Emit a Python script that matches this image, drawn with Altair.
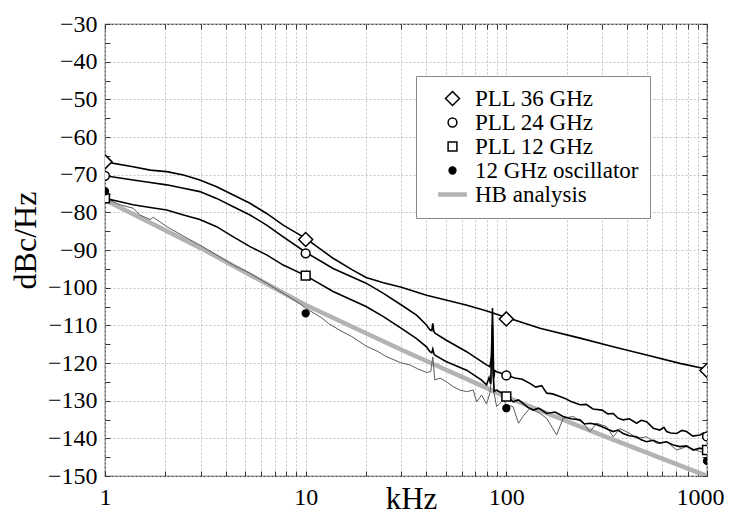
import altair as alt
import pandas as pd

FONT = "Liberation Serif"

series_names = ["PLL 36 GHz", "PLL 24 GHz", "PLL 12 GHz", "12 GHz oscillator", "HB analysis"]

# PLL 36 GHz trace
f36 = [1, 1.38, 1.68, 2.03, 2.46, 2.97, 3.6, 4.36, 5.28, 6.39,
       7.73, 10, 13.7, 17, 20, 24.4, 30, 40, 50, 63,
       80, 100, 147, 233, 341, 500, 733, 950, 1000]
v36 = [-66.6, -67.9, -68.8, -69.2, -70.1, -71.4, -73.2, -75.4, -77.6, -80.3,
       -83.4, -86.9, -92.2, -95.2, -97.3, -98.7, -99.9, -102.0, -103.3, -104.6,
       -106.2, -107.9, -110.8, -113.4, -115.7, -117.9, -120.1, -121.4, -121.9]

# PLL 24 GHz trace
f24 = [1, 1.38, 1.68, 2.03, 2.46, 2.97, 3.6, 4.36, 5.28, 6.39,
       7.73, 10, 13.7, 20, 24.4, 30, 35.7, 40, 41.6, 42.5,
       43, 43.5, 44.1, 50, 63.4, 79.7, 82.8, 84.2, 84.8, 85.3,
       85.8, 86.5, 87.5, 89.5,
       100, 110, 120, 131, 140, 150, 159, 170, 185, 196,
       210, 233, 250, 270, 300, 320, 341, 360, 382, 410,
       446, 470, 500, 540, 582, 610, 629, 660, 706, 750,
       791, 850, 922, 960, 1000]
v24 = [-70.3, -71.4, -72.1, -72.7, -73.6, -74.5, -76.3, -78.5, -80.7, -83.4,
       -86.5, -90.6, -94.9, -98.8, -101.5, -104.6, -107.3, -109.9, -111.2, -111.4,
       -109.5, -111.6, -112.1, -113.9, -117.0, -120.5, -121.0, -118.5, -112.0, -105.4,
       -113.0, -124.0, -122.0, -122.3,
       -123.2, -124.0, -124.3, -125.4, -126.4, -126.0, -128.0, -128.2, -128.9, -129.4,
       -130.2, -131.1, -131.0, -132.2, -132.5, -133.5, -133.4, -134.6, -135.1, -134.8,
       -136.0, -135.2, -135.6, -137.3, -137.8, -137.1, -138.2, -138.6, -138.7, -137.9,
       -138.2, -139.4, -139.1, -138.6, -139.5]

# PLL 12 GHz trace
f12 = [1, 1.19, 1.38, 1.68, 2.03, 2.46, 2.97, 3.6, 4.36, 5.28,
       6.39, 7.73, 10, 13.7, 20, 24.4, 30, 35.7, 40, 41.6,
       42.5, 43, 43.6, 44.1, 50, 63.4, 75, 79.7, 82, 83.5,
       84.5, 85.3, 86, 87, 89.5, 95,
       100, 104, 108, 115, 121, 128, 136, 145, 159, 175,
       192, 210, 233, 245, 261, 280, 300, 320, 341, 360,
       382, 410, 446, 470, 500, 540, 582, 629, 680, 733,
       790, 854, 920, 1000]
v12 = [-76.3, -77.2, -78.0, -78.7, -79.4, -80.7, -81.9, -83.8, -86.5, -89.1,
       -91.3, -94.0, -96.8, -101.0, -105.0, -107.7, -110.8, -113.5, -115.7, -117.0,
       -117.3, -116.3, -117.6, -117.9, -119.6, -121.9, -124.5, -125.8, -123.9, -125.5,
       -118.0, -110.0, -122.0, -127.5, -127.2, -128.0,
       -128.9, -129.5, -130.3, -129.8, -130.7, -131.8, -132.5, -132.0, -133.4, -133.0,
       -134.2, -134.8, -135.1, -136.2, -136.0, -136.3, -136.9, -137.6, -138.2, -137.8,
       -138.7, -139.3, -139.6, -140.4, -140.9, -140.5, -141.3, -140.9, -141.8, -142.2,
       -142.0, -143.1, -142.6, -143.1]

# 12 GHz free-running oscillator trace
f_osc = [1, 1.19, 1.38, 1.49, 1.68, 1.74, 2.03, 2.46, 2.97, 3.6,
         4.36, 5.28, 6.39, 7.73, 9.37, 10, 12, 13, 15, 17,
         20, 23, 25, 30, 33, 36, 40, 42, 43, 44,
         46.7, 50.4, 54.4, 58.7, 63.4, 68.4, 71.1, 75.3, 79.7, 82.8,
         84.5, 85.3, 86.5, 89.5, 93, 96.5, 100, 108, 115, 121,
         131, 147, 159, 178, 192, 216, 242, 261, 282, 316,
         341, 368, 413, 446, 500, 561, 629, 706, 791, 922,
         1000]
v_osc = [-76.3, -78.0, -78.9, -80.7, -81.9, -81.3, -83.8, -86.3, -88.7, -91.3,
         -94.0, -96.2, -98.8, -101.5, -104.3, -105.4, -108.0, -109.5, -111.5, -113.0,
         -115.5, -117.0, -118.2, -120.0, -120.5, -121.5, -122.5, -122.3, -118.4, -124.5,
         -124.0, -125.0, -126.3, -127.2, -127.6, -127.2, -130.3, -128.5, -130.9, -128.0,
         -124.0, -119.5, -127.5, -131.6, -130.7, -129.8, -131.0, -131.6, -136.0, -134.2,
         -132.0, -133.4, -134.7, -139.1, -134.7, -134.2, -136.0, -138.2, -136.0, -136.9,
         -139.6, -137.4, -138.7, -140.0, -139.6, -141.3, -140.9, -143.1, -142.2, -143.5,
         -144.0]

# HB analysis (simulation)
f_hb = [1, 3, 10, 30, 100, 300, 1000]
v_hb = [-76.7, -89.5, -104.6, -116.5, -129.0, -139.2, -150.0]

# marker positions
marker_freq = [1, 10, 100, 1000]
m36 = [-66.6, -87.2, -108.3, -122.0]
m24 = [-70.3, -90.9, -123.3, -139.5]
m12 = [-76.3, -96.8, -128.9, -143.1]
m_osc = [-74.4, -106.8, -132.0, -146.0]

x_ticks = [1, 2, 3, 4, 5, 6, 7, 8, 9,
           10, 20, 30, 40, 50, 60, 70, 80, 90,
           100, 200, 300, 400, 500, 600, 700, 800, 900, 1000]
y_ticks = list(range(-150, -29, 5))


def frame(name, f, v):
    return pd.DataFrame({"f": f, "v": v, "s": name})


pll_df = pd.concat([frame(series_names[0], f36, v36),
                    frame(series_names[1], f24, v24),
                    frame(series_names[2], f12, v12)])
osc_df = frame(series_names[3], f_osc, v_osc)
hb_df = frame(series_names[4], f_hb, v_hb)
mk_df = pd.concat([frame(series_names[0], marker_freq, m36),
                   frame(series_names[1], marker_freq, m24),
                   frame(series_names[2], marker_freq, m12),
                   frame(series_names[3], marker_freq, m_osc)])

xs = alt.Scale(type="log", domain=[1, 1000], nice=False)
ys = alt.Scale(domain=[-150, -30], nice=False, zero=False)

x_main = alt.Axis(
    values=x_ticks, format="d",
    labelExpr="indexof([1,10,100,1000], datum.value) >= 0 ? datum.label : ''",
    labelFlush=False, labelOverlap=False, labelFont=FONT, labelFontSize=24,
    labelColor="black", labelPadding=9,
    labelOffset={"condition": {"test": "datum.value == 1000", "value": -7}, "value": 0},
    grid=True, gridColor="#c4c4c4", gridDash=[2, 2], gridWidth=1,
    domain=False, ticks=True, tickSize=5, tickColor="#333", tickWidth=1, offset=-5,
    title="kHz", titleFont=FONT, titleFontSize=31, titleFontWeight="normal",
    titleColor="black", titleBaseline="alphabetic", titleY=37, titleX=306,
)
y_main = alt.Axis(
    values=y_ticks, format="d",
    labelExpr="datum.value % 10 == 0 ? datum.label : ''",
    labelFlush=False, labelOverlap=False, labelFont=FONT, labelFontSize=24,
    labelColor="black", labelPadding=8,
    grid=True, gridColor="#c4c4c4", gridDash=[2, 2], gridWidth=1,
    gridOpacity={"condition": {"test": "datum.value % 10 == 0", "value": 1}, "value": 0},
    domain=False, ticks=True, tickSize=5, tickColor="#333", tickWidth=1, offset=-5,
    title="dBc/Hz", titleFont=FONT, titleFontSize=32, titleFontWeight="normal",
    titleColor="black", titleBaseline="alphabetic", titleX=-75, titleY=216,
)
x_top = alt.Axis(orient="top", values=x_ticks, labels=False, grid=False, domain=False,
                 ticks=True, tickSize=5, tickColor="#333", tickWidth=1, offset=-5, title=None)
y_right = alt.Axis(orient="right", values=y_ticks, labels=False, grid=False, domain=False,
                   ticks=True, tickSize=5, tickColor="#333", tickWidth=1, offset=-5, title=None)

hb_line = alt.Chart(hb_df).mark_line(color="#b3b3b3", strokeWidth=4.5, clip=True).encode(
    x=alt.X("f:Q", scale=xs, axis=x_main),
    y=alt.Y("v:Q", scale=ys, axis=y_main),
)
osc_line = alt.Chart(osc_df).mark_line(color="#5a5a5a", strokeWidth=1, clip=True).encode(
    x=alt.X("f:Q", scale=xs, axis=None),
    y=alt.Y("v:Q", scale=ys, axis=None),
)
pll_lines = alt.Chart(pll_df).mark_line(color="black", strokeWidth=1.6, clip=True).encode(
    x=alt.X("f:Q", scale=xs, axis=x_top),
    y=alt.Y("v:Q", scale=ys, axis=y_right),
    detail="s:N",
)

shape_paths = [
    "M0,-1.75L1.75,0L0,1.75L-1.75,0Z",
    "M-1.1,0A1.1,1.1,0,1,1,1.1,0A1.1,1.1,0,1,1,-1.1,0Z",
    "M-1.1,-1.1L1.1,-1.1L1.1,1.1L-1.1,1.1Z",
    "M-0.85,0A0.85,0.85,0,1,1,0.85,0A0.85,0.85,0,1,1,-0.85,0Z",
    "M-3.4,-0.35L3.4,-0.35L3.4,0.35L-3.4,0.35Z",
]
fills = ["white", "white", "white", "black", "#b3b3b3"]
strokes = ["black", "black", "black", "black", "#b3b3b3"]

leg = alt.Legend(
    title=None, orient="none", legendX=311, legendY=52,
    labelFont=FONT, labelFontSize=23, labelColor="black", labelLimit=400,
    symbolSize=64, symbolStrokeWidth=1.5, padding=11, symbolOffset=14,
    labelOffset=11, rowPadding=0, strokeColor="#888", fillColor="white",
)

points = alt.Chart(mk_df).mark_point(filled=True, size=64, strokeWidth=1.5, opacity=1, clip=True).encode(
    x=alt.X("f:Q", scale=xs, axis=None),
    y=alt.Y("v:Q", scale=ys, axis=None),
    shape=alt.Shape("s:N", scale=alt.Scale(domain=series_names, range=shape_paths), legend=leg),
    fill=alt.Fill("s:N", scale=alt.Scale(domain=series_names, range=fills), legend=leg),
    stroke=alt.Stroke("s:N", scale=alt.Scale(domain=series_names, range=strokes), legend=leg),
)

chart = alt.layer(hb_line, osc_line, pll_lines, points).resolve_axis(
    x="independent", y="independent"
).properties(
    width=602, height=452,
    padding={"left": 97, "top": 16, "right": 18, "bottom": 44},
    autosize=alt.AutoSizeParams(type="none"),
    background="white",
).configure_view(stroke="#444", strokeWidth=1.2)

chart.save("out.html", embed_options={"renderer": "svg", "actions": False})
